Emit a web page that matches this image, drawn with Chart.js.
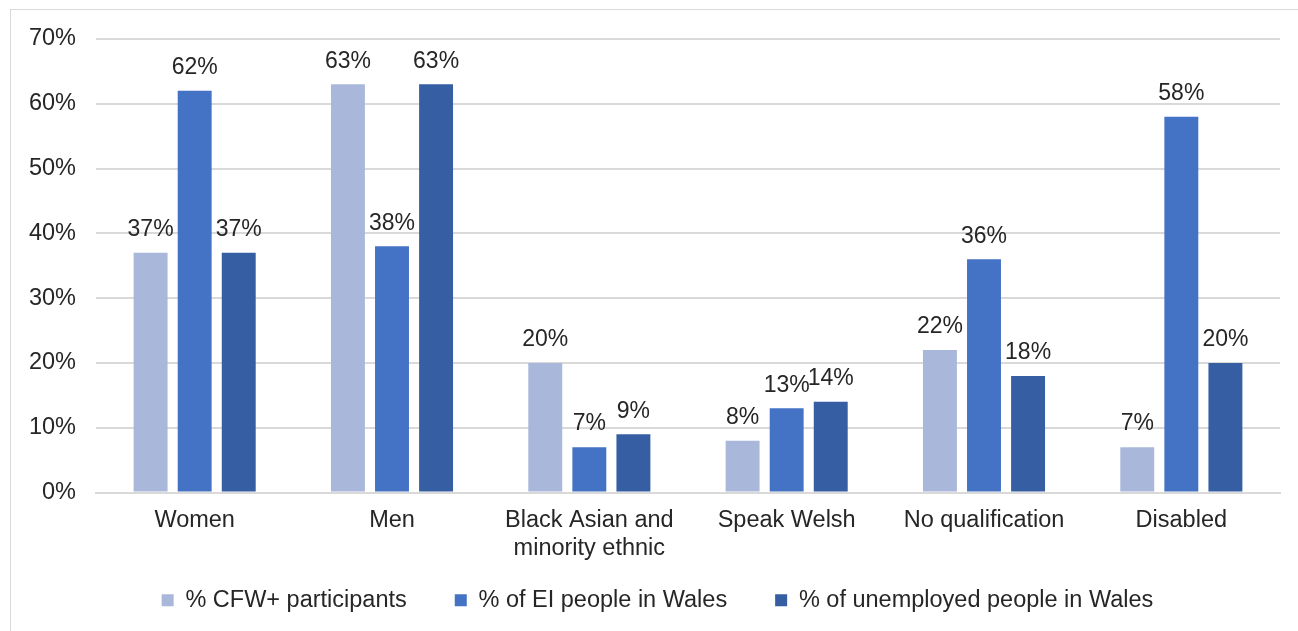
<!DOCTYPE html>
<html>
<head>
<meta charset="utf-8">
<script src="https://cdn.jsdelivr.net/npm/chart.js@4.4.0/dist/chart.umd.min.js"></script>
<style>
  body { margin: 0; background: #fff; }
  #frame {
    position: absolute;
    left: 10px;
    top: 9px;
    width: 1290px;
    height: 630px;
    border: 1px solid #d9d9d9;
    box-sizing: border-box;
  }
  canvas { display: block; }
</style>
</head>
<body>
<div id="frame"><canvas id="chart" width="1288" height="628"></canvas></div>
<script>
// Data
const categories = ["Women", "Men", ["Black Asian and", "minority ethnic"], "Speak Welsh", "No qualification", "Disabled"];
const cfwParticipants = [37, 63, 20, 8, 22, 7];
const eiPeopleWales = [62, 38, 7, 13, 36, 58];
const unemployedWales = [37, 63, 9, 14, 18, 20];
const yTicks = [0, 10, 20, 30, 40, 50, 60, 70];

const FONT = "'Liberation Sans', Arial, sans-serif";
const FONT_SIZE = 23.5;

// Draw the value labels above each bar
const valueLabels = {
  id: "valueLabels",
  afterDatasetsDraw(chart) {
    const ctx = chart.ctx;
    ctx.save();
    ctx.font = "23px " + FONT;
    ctx.fillStyle = "#262626";
    ctx.textAlign = "center";
    ctx.textBaseline = "middle";
    chart.data.datasets.forEach((ds, i) => {
      chart.getDatasetMeta(i).data.forEach((bar, j) => {
        ctx.fillText(ds.data[j] + "%", bar.x, bar.y - 23);
      });
    });
    ctx.restore();
  },
};

new Chart(document.getElementById("chart"), {
  type: "bar",
  data: {
    labels: categories,
    datasets: [
      {
        label: "% CFW+ participants",
        data: cfwParticipants,
        backgroundColor: "#a9b7db",
      },
      {
        label: "% of EI people in Wales",
        data: eiPeopleWales,
        backgroundColor: "#4472c4",
      },
      {
        label: "% of unemployed people in Wales",
        data: unemployedWales,
        backgroundColor: "#355ea3",
      },
    ],
  },
  options: {
    responsive: false,
    animation: false,
    layout: { padding: { top: 29, right: 19, bottom: 16, left: 24 } },
    datasets: {
      bar: { categoryPercentage: 0.67, barPercentage: 0.77 },
    },
    plugins: {
      legend: {
        position: "bottom",
        labels: {
          boxWidth: 12,
          boxHeight: 12,
          padding: 48,
          color: "#262626",
          font: { family: FONT, size: FONT_SIZE },
        },
      },
      tooltip: { enabled: false },
    },
    scales: {
      y: {
        min: 0,
        max: 70,
        afterBuildTicks: (s) => {
          s.ticks = yTicks.map((v) => ({ value: v }));
        },
        afterFit: (s) => {
          s.width = 61;
          // tick padding should only push labels sideways, not down from the top
          s.paddingTop = 0;
          s.paddingBottom = 0;
          // labels are wider than the narrowed box, don't clip them
          s._computeLabelArea = () => undefined;
        },
        grid: { color: "#d9d9d9", lineWidth: 2, drawTicks: false },
        border: { display: false },
        ticks: {
          padding: 20,
          color: "#262626",
          font: { family: FONT, size: FONT_SIZE },
          callback: (v) => v + "%",
        },
      },
      x: {
        grid: { display: false, drawTicks: false },
        border: { color: "#d9d9d9", width: 2 },
        afterFit: (s) => {
          s.height = 48;
          // let the two-line category label run below the axis box
          s._computeLabelArea = () => undefined;
        },
        ticks: {
          padding: 14,
          maxRotation: 0,
          color: "#262626",
          font: { family: FONT, size: FONT_SIZE, lineHeight: 1.2 },
        },
      },
    },
  },
  plugins: [valueLabels],
});
</script>
</body>
</html>
